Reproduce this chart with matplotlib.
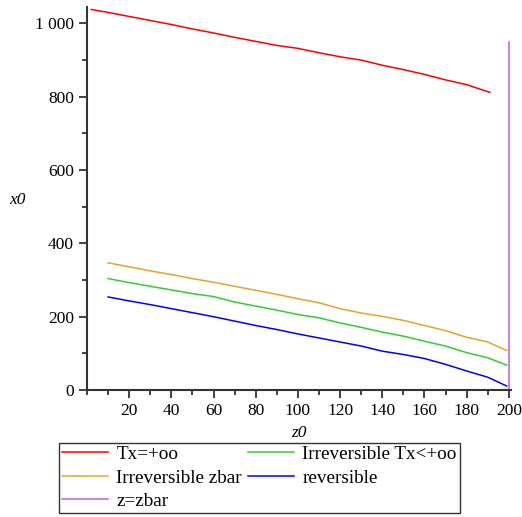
import matplotlib
matplotlib.use("Agg")
import matplotlib.pyplot as plt
from matplotlib.ticker import FuncFormatter, MultipleLocator

plt.rcParams["font.family"] = ["Liberation Serif", "DejaVu Serif"]

# Tx=+oo
z_red = [2, 10, 20, 30, 40, 50, 60, 70, 80, 90, 100, 110, 120, 130, 140,
         150, 160, 170, 180, 191]
x_red = [1038, 1030, 1019, 1008, 997, 985, 974, 962, 951, 940, 932, 920,
         909, 900, 886, 874, 861, 846, 833, 812]

z_common = [10, 20, 30, 40, 50, 60, 70, 80, 90, 100, 110, 120, 130, 140,
            150, 160, 170, 180, 190, 199]
# Irreversible zbar
x_orange = [347, 336, 325, 315, 304, 294, 283, 272, 261, 249, 238, 222,
            210, 201, 190, 176, 162, 144, 131, 108]
# Irreversible Tx<+oo
x_green = [304, 293, 283, 273, 263, 255, 240, 229, 218, 206, 197, 183,
           171, 158, 147, 133, 120, 102, 88, 68]
# reversible
x_blue = [254, 243, 233, 222, 211, 200, 188, 176, 165, 153, 142, 131,
          120, 106, 97, 86, 70, 52, 35, 11]

zbar = 200
zbar_top = 950

fig = plt.figure(figsize=(5.22, 5.17), dpi=100)
ax = fig.add_axes([0.1667, 0.2456, 0.812, 0.741])

l_red, = ax.plot(z_red, x_red, color="#FF0000", lw=1.1, label="Tx=+oo")
l_or, = ax.plot(z_common, x_orange, color="#E8A22A", lw=1.1,
                label="Irreversible zbar")
l_pu, = ax.plot([zbar, zbar], [0, zbar_top], color="#C058E0", lw=1.1,
                label="z=zbar")
l_gr, = ax.plot(z_common, x_green, color="#33CC33", lw=1.1,
                label="Irreversible Tx<+oo")
l_bl, = ax.plot(z_common, x_blue, color="#0000FF", lw=1.1, label="reversible")

ax.set_xlim(0, 201)
ax.set_ylim(0, 1045)
for s in ["top", "right"]:
    ax.spines[s].set_visible(False)
for s in ["left", "bottom"]:
    ax.spines[s].set_linewidth(1.5)
    ax.spines[s].set_color("#333333")

ax.xaxis.set_major_locator(MultipleLocator(20))
ax.xaxis.set_minor_locator(MultipleLocator(10))
ax.yaxis.set_major_locator(MultipleLocator(200))
ax.yaxis.set_minor_locator(MultipleLocator(100))
ax.yaxis.set_major_formatter(FuncFormatter(
    lambda v, p: f"{int(v):,}".replace(",", " ")))
ax.tick_params(which="major", length=6, width=1.3, labelsize=12.5, color="#333333")
ax.tick_params(which="minor", length=3.5, width=1.3, color="#333333")
ax.set_xticks([t for t in range(20, 201, 20)])

ax.set_xlabel("z0", fontstyle="italic", fontsize=12.5, labelpad=4)
ax.set_ylabel("x0", fontstyle="italic", fontsize=12.5, rotation=0,
              ha="center", va="center")
ax.yaxis.set_label_coords(-0.163, 0.496)

fig.legend(handles=[l_red, l_or, l_pu, l_gr, l_bl], ncol=2,
           loc="lower left", bbox_to_anchor=(59 / 522, 4 / 517),
           fontsize=13.8, frameon=True, fancybox=False, edgecolor="black",
           handlelength=2.4, handletextpad=0.45, columnspacing=0.3,
           labelspacing=0.32, borderpad=0.15, borderaxespad=0)

fig.savefig("out.png", dpi=100)
